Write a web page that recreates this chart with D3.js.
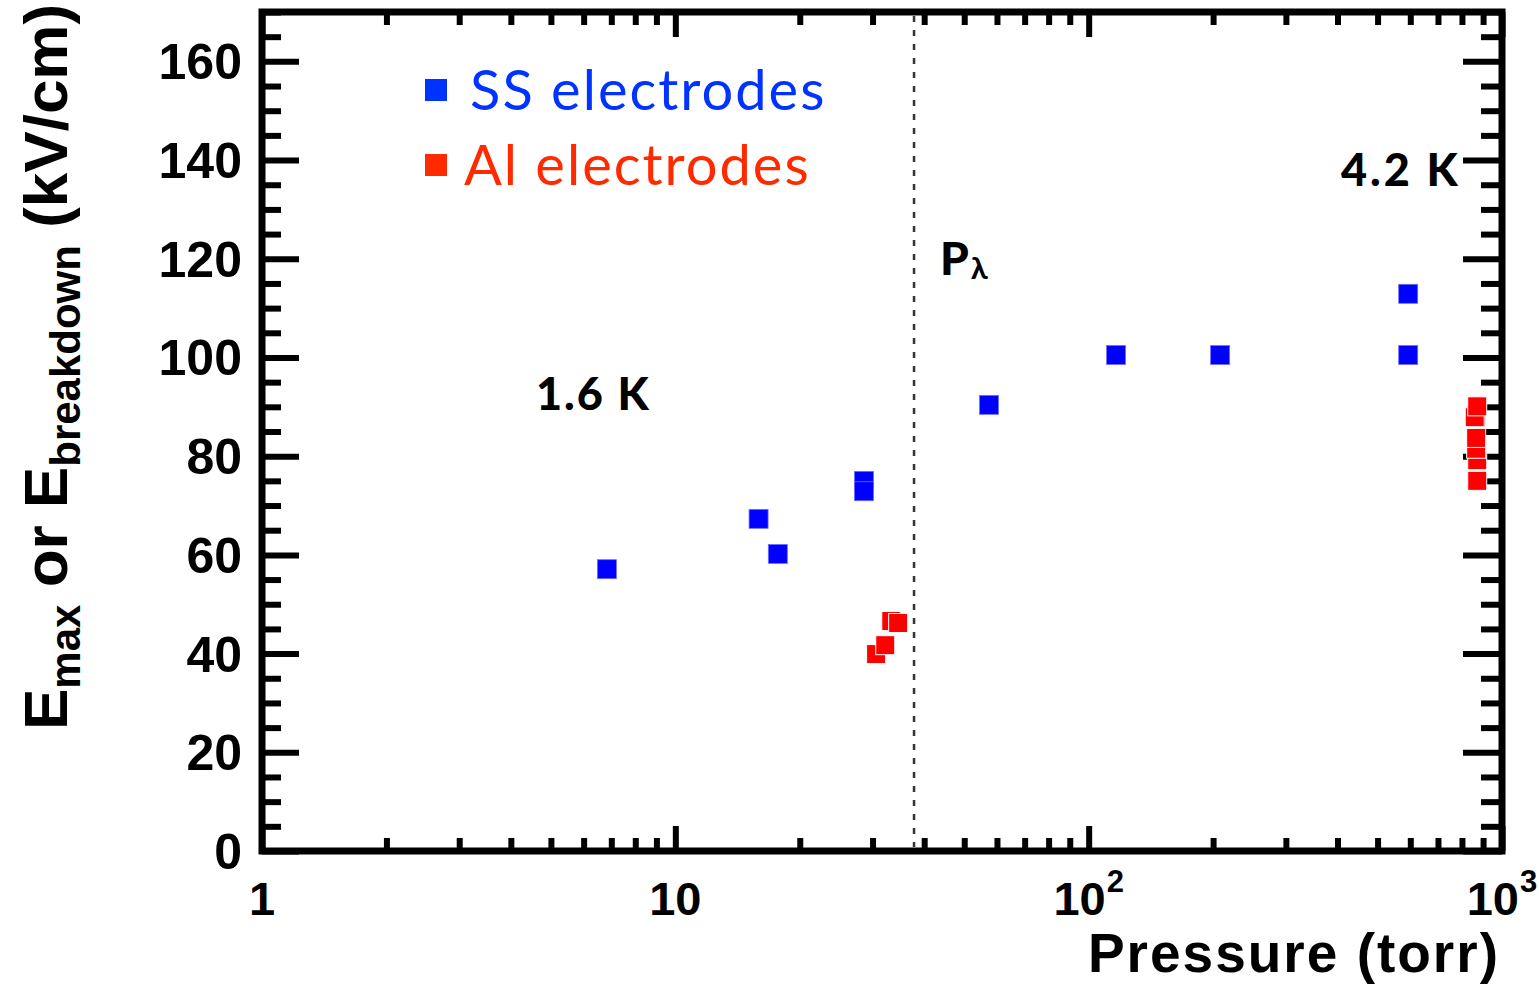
<!DOCTYPE html>
<html>
<head>
<meta charset="utf-8">
<script src="https://cdn.jsdelivr.net/npm/d3@7"></script>
<style>
  body { margin: 0; background: #fff; }
  svg { display: block; }
</style>
</head>
<body>
<div id="chart"></div>
<script>
// SS electrodes (blue)
const ssPressure = [6.83, 15.9, 17.7, 28.6, 28.6, 57.4, 116.5, 208, 593, 593];
const ssField = [57.1, 67.3, 60.2, 75.0, 72.9, 90.4, 100.5, 100.5, 112.9, 100.5];

// Al electrodes (red)
const alPressure = [30.6, 32.2, 33.3, 34.6, 871, 871, 866, 866, 866, 859, 871];
const alField = [39.9, 41.7, 46.6, 46.2, 75.0, 79.2, 81.5, 83.7, 87.9, 87.9, 90.1];

const lambdaPressure = 37.8;

const xMajorTicks = [1, 10, 100, 1000];
const xTickBase = ["1", "10", "10", "10"];
const xTickExp = ["", "", "2", "3"];
const yMajorTicks = [0, 20, 40, 60, 80, 100, 120, 140, 160];

const width = 1539, height = 985;
const plotLeft = 262, plotRight = 1502, plotTop = 12, plotBottom = 851;

const svg = d3.select("#chart").append("svg")
  .attr("width", width)
  .attr("height", height);

const x = d3.scaleLog().domain([1, 1000]).range([plotLeft, plotRight]);
const y = d3.scaleLinear().domain([0, 170]).range([plotBottom, plotTop]);

const xMinor = [];
[1, 10, 100].forEach(d => { for (let k = 2; k <= 9; k++) xMinor.push(d * k); });
const yMinor = d3.range(0, 171, 5).filter(v => v % 20 !== 0);

function styleTicks(g, w) {
  g.select(".domain").remove();
  g.selectAll(".tick line").attr("stroke", "#000").attr("stroke-width", w);
  g.selectAll(".tick text").remove();
}

// x axes (bottom and top), ticks pointing inside
svg.append("g").attr("transform", `translate(0,${plotBottom})`)
  .call(d3.axisBottom(x).tickValues(xMajorTicks).tickSize(-25))
  .call(g => styleTicks(g, 6));
svg.append("g").attr("transform", `translate(0,${plotBottom})`)
  .call(d3.axisBottom(x).tickValues(xMinor).tickSize(-13))
  .call(g => styleTicks(g, 6));
svg.append("g").attr("transform", `translate(0,${plotTop})`)
  .call(d3.axisTop(x).tickValues(xMajorTicks).tickSize(-25))
  .call(g => styleTicks(g, 6));
svg.append("g").attr("transform", `translate(0,${plotTop})`)
  .call(d3.axisTop(x).tickValues(xMinor).tickSize(-13))
  .call(g => styleTicks(g, 6));

// y axes (left and right)
svg.append("g").attr("transform", `translate(${plotLeft},0)`)
  .call(d3.axisLeft(y).tickValues(yMajorTicks).tickSize(-37))
  .call(g => styleTicks(g, 6));
svg.append("g").attr("transform", `translate(${plotLeft},0)`)
  .call(d3.axisLeft(y).tickValues(yMinor).tickSize(-19))
  .call(g => styleTicks(g, 6));
svg.append("g").attr("transform", `translate(${plotRight},0)`)
  .call(d3.axisRight(y).tickValues(yMajorTicks).tickSize(-39))
  .call(g => styleTicks(g, 6));
svg.append("g").attr("transform", `translate(${plotRight},0)`)
  .call(d3.axisRight(y).tickValues(yMinor).tickSize(-21))
  .call(g => styleTicks(g, 6));

// frame
svg.append("rect")
  .attr("x", plotLeft).attr("y", plotTop)
  .attr("width", plotRight - plotLeft).attr("height", plotBottom - plotTop)
  .attr("fill", "none").attr("stroke", "#000").attr("stroke-width", 7);

// tick labels
const numFont = "'Liberation Sans', Arial, Helvetica, sans-serif";
svg.append("g").selectAll("text")
  .data(yMajorTicks)
  .join("text")
  .attr("x", 242)
  .attr("y", d => y(d))
  .attr("dy", "0.36em")
  .attr("text-anchor", "end")
  .style("font-family", numFont)
  .style("font-weight", "bold")
  .style("font-size", "50px")
  .text(d => d);

const xl = svg.append("g").selectAll("text")
  .data(xMajorTicks)
  .join("text")
  .attr("x", d => x(d))
  .attr("y", 915)
  .attr("text-anchor", "middle")
  .style("font-family", numFont)
  .style("font-weight", "bold")
  .style("font-size", "47px");
xl.append("tspan").text((d, i) => xTickBase[i]);
xl.append("tspan")
  .attr("dy", -23)
  .attr("dx", 1)
  .style("font-size", "31px")
  .text((d, i) => xTickExp[i]);

// axis titles
svg.append("text")
  .attr("x", 1500).attr("y", 972)
  .attr("text-anchor", "end")
  .style("font-family", numFont)
  .style("font-weight", "bold")
  .style("font-size", "55px")
  .style("letter-spacing", "2px")
  .text("Pressure (torr)");

const yt = svg.append("text")
  .attr("transform", "translate(67,730) rotate(-90)")
  .attr("text-anchor", "start")
  .style("font-family", numFont)
  .style("font-weight", "bold")
  .style("font-size", "62px");
yt.append("tspan").text("E");
yt.append("tspan").attr("dy", 13).style("font-size", "42px").text("max");
yt.append("tspan").attr("dy", -13).text(" or E");
yt.append("tspan").attr("dy", 13).style("font-size", "42px").text("breakdown");
yt.append("tspan").attr("dy", -13).text(" (kV/cm)");

// lambda point line
svg.append("line")
  .attr("x1", x(lambdaPressure)).attr("x2", x(lambdaPressure))
  .attr("y1", plotTop + 4).attr("y2", plotBottom - 4)
  .attr("stroke", "#333")
  .attr("stroke-width", 2.5)
  .attr("stroke-dasharray", "6,8");

// data points
const ms = 19;
svg.append("g").selectAll("rect")
  .data(ssPressure.map((p, i) => [p, ssField[i]]))
  .join("rect")
  .attr("x", d => x(d[0]) - ms / 2)
  .attr("y", d => y(d[1]) - ms / 2)
  .attr("width", ms).attr("height", ms)
  .attr("fill", "#0000ff")
  .attr("stroke", "#6f6fff")
  .attr("stroke-width", 0.8);

svg.append("g").selectAll("rect")
  .data(alPressure.map((p, i) => [p, alField[i]]))
  .join("rect")
  .attr("x", d => x(d[0]) - ms / 2)
  .attr("y", d => y(d[1]) - ms / 2)
  .attr("width", ms).attr("height", ms)
  .attr("fill", "#ff0000")
  .attr("stroke", "#fff")
  .attr("stroke-width", 1);

// annotations
const annFont = "Lato, 'Open Sans', sans-serif";
svg.append("text")
  .attr("x", 536).attr("y", 410)
  .style("font-family", annFont).style("font-weight", 900)
  .style("font-size", "45px").style("letter-spacing", "2px")
  .text("1.6 K");
svg.append("text")
  .attr("x", 1341).attr("y", 186)
  .style("font-family", annFont).style("font-weight", 900)
  .style("font-size", "45px").style("letter-spacing", "3px")
  .text("4.2 K");
const pl = svg.append("text")
  .attr("x", 940).attr("y", 275)
  .style("font-family", annFont).style("font-weight", 900)
  .style("font-size", "46px");
pl.append("tspan").text("P");
pl.append("tspan").attr("dy", 4).attr("dx", 2).style("font-size", "31px").style("font-weight", 700).text("λ");

// legend
const legend = [
  { label: "SS electrodes", color: "#0033ff", y: 90, tx: 470 },
  { label: "Al electrodes", color: "#ff2a00", y: 165, tx: 464 }
];
const lg = svg.append("g").selectAll("g").data(legend).join("g");
lg.append("rect")
  .attr("x", 425).attr("y", d => d.y - 11)
  .attr("width", 22).attr("height", 22)
  .attr("fill", d => d.color);
lg.append("text")
  .attr("x", d => d.tx).attr("y", d => d.y + 20)
  .style("font-family", annFont)
  .style("font-size", "56px")
  .style("letter-spacing", "2px")
  .attr("fill", d => d.color)
  .text(d => d.label);
</script>
</body>
</html>
